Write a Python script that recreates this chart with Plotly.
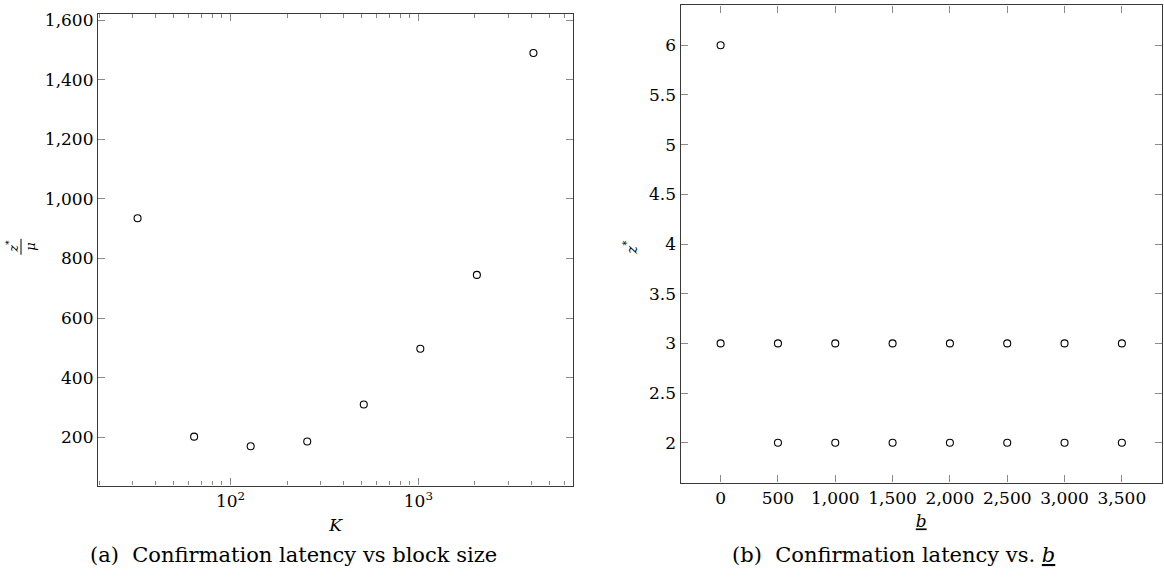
import math
import plotly.graph_objects as go

# (a) confirmation latency (normalised by mu) against block size K
block_size = [32, 64, 128, 256, 512, 1024, 2048, 4096]
latency_norm = [935, 202, 170, 186, 310, 497, 745, 1490]

# (b) optimal confirmation depth z* against b
b_values = [0, 500, 1000, 1500, 2000, 2500, 3000, 3500]
z_upper = [6, 3, 3, 3, 3, 3, 3, 3]
z_lower = [3, 2, 2, 2, 2, 2, 2, 2]

W, H = 1164, 585
FONT = "DejaVu Serif"
AXIS_COLOR = "#3a3a3a"
TICK_COLOR = "#8a8a8a"


def px_x(p):
    return p / W


def px_y(p):
    return 1 - p / H


def enlarged(lo, hi, frac=0.1):
    pad = (hi - lo) * frac
    return [lo - pad, hi + pad]


marker = dict(symbol="circle-open", size=7, color="black",
              line=dict(color="black", width=1.1))

fig = go.Figure()
fig.add_trace(go.Scatter(x=block_size, y=latency_norm, mode="markers",
                         marker=marker, xaxis="x", yaxis="y", showlegend=False))
fig.add_trace(go.Scatter(x=b_values, y=z_upper, mode="markers",
                         marker=marker, xaxis="x2", yaxis="y2", showlegend=False))
fig.add_trace(go.Scatter(x=b_values, y=z_lower, mode="markers",
                         marker=marker, xaxis="x2", yaxis="y2", showlegend=False))

common = dict(showline=True, linecolor=AXIS_COLOR, linewidth=1.2, mirror="ticks",
              ticks="inside", ticklen=7, tickwidth=1, tickcolor=TICK_COLOR,
              showgrid=False, zeroline=False,
              tickfont=dict(family=FONT, size=17, color="black"))

log_lo = math.log10(min(block_size))
log_hi = math.log10(max(block_size))
minor_vals = [m * 10 ** e for e in (1, 2, 3) for m in range(2, 10)]

fig.update_layout(
    width=W, height=H,
    margin=dict(l=0, r=0, t=0, b=0),
    paper_bgcolor="white", plot_bgcolor="white",
    font=dict(family=FONT, color="black"),
    xaxis=dict(common, type="log", domain=[px_x(98), px_x(573)],
               range=enlarged(log_lo, log_hi), anchor="y",
               tickvals=[100, 1000], ticktext=["10<sup>2</sup>", "10<sup>3</sup>"],
               minor=dict(tickvals=minor_vals, ticks="inside", ticklen=4,
                          tickcolor=TICK_COLOR, tickwidth=1, showgrid=False),
               title=dict(text="<i>K</i>", font=dict(family=FONT, size=17),
                          standoff=9)),
    yaxis=dict(common, domain=[px_y(485), px_y(10.7)],
               range=enlarged(min(latency_norm), max(latency_norm)), anchor="x",
               dtick=200, tickformat=","),
    xaxis2=dict(common, domain=[px_x(680.5), px_x(1162)],
                range=enlarged(min(b_values), max(b_values)), anchor="y2",
                dtick=500, tickformat=",",
                title=dict(text="<u><i>b</i></u>", font=dict(family=FONT, size=17),
                           standoff=8)),
    yaxis2=dict(common, domain=[px_y(482), px_y(2.5)],
                range=enlarged(min(z_lower), max(z_upper)), anchor="x2",
                dtick=0.5),
)

# y-axis label of (a): the fraction z*/mu, rotated
fig.add_annotation(text="<i>z</i><sup>*</sup>", x=px_x(12), y=px_y(245),
                   xref="paper", yref="paper", xanchor="center", yanchor="middle",
                   textangle=-90, showarrow=False, font=dict(family=FONT, size=13))
fig.add_annotation(text="<i>μ</i>", x=px_x(31), y=px_y(245),
                   xref="paper", yref="paper", xanchor="center", yanchor="middle",
                   textangle=-90, showarrow=False, font=dict(family=FONT, size=13))
fig.add_shape(type="line", xref="paper", yref="paper",
              x0=px_x(21), x1=px_x(21), y0=px_y(237), y1=px_y(253),
              line=dict(color="black", width=1))

# y-axis label of (b)
fig.add_annotation(text="<i>z</i><sup>*</sup>", x=px_x(630), y=px_y(246),
                   xref="paper", yref="paper", xanchor="center", yanchor="middle",
                   textangle=-90, showarrow=False, font=dict(family=FONT, size=15))

# sub-figure captions
fig.add_annotation(text="(a)  Confirmation latency vs block size",
                   x=px_x(293), y=px_y(555), xref="paper", yref="paper",
                   xanchor="center", yanchor="middle",
                   showarrow=False, font=dict(family=FONT, size=21))
fig.add_annotation(text="(b)  Confirmation latency vs. <u><i>b</i></u>",
                   x=px_x(893), y=px_y(555), xref="paper", yref="paper",
                   xanchor="center", yanchor="middle",
                   showarrow=False, font=dict(family=FONT, size=21))

fig.write_html("out.html")
